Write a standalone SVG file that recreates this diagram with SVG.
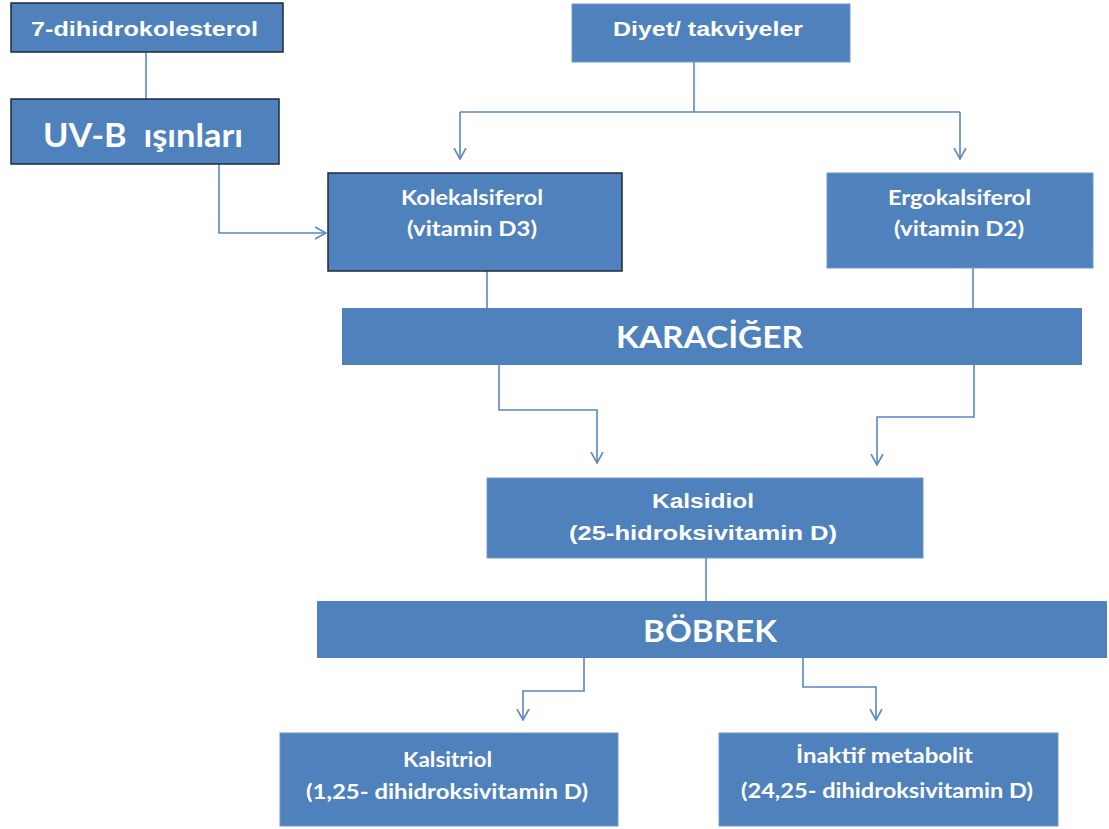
<svg xmlns="http://www.w3.org/2000/svg" width="1109" height="829" viewBox="0 0 1109 829">
  <style>
    .box { fill: #4F81BD; }
    .dark { stroke: #1e2a38; stroke-width: 1.5; }
    .lite { stroke: #6f97c9; stroke-width: 1; }
    .t { fill: #ffffff; font-weight: bold; text-anchor: middle; }
    .a { font-family: "Liberation Sans", Arial, sans-serif; }
    .c { font-family: Lato, "Open Sans", sans-serif; }
    .conn { fill: none; stroke: #5b87c0; stroke-width: 1.6; }
  </style>
  <defs>
    <marker id="arr" viewBox="0 0 12 14" refX="11" refY="7" markerWidth="12" markerHeight="14" markerUnits="userSpaceOnUse" orient="auto">
      <path d="M0,1 L11,7 L0,13" fill="none" stroke="#5b87c0" stroke-width="1.6"/>
    </marker>
  </defs>
  <rect width="1109" height="829" fill="#ffffff"/>

  <g id="connectors">
    <path class="conn" d="M146,52 V99"/>
    <path class="conn" d="M219,164 V233 H326" marker-end="url(#arr)"/>
    <path class="conn" d="M694,62 V112"/>
    <path class="conn" d="M460,112 H960"/>
    <path class="conn" d="M460,112 V159" marker-end="url(#arr)"/>
    <path class="conn" d="M960,112 V159" marker-end="url(#arr)"/>
    <path class="conn" d="M487,271 V308"/>
    <path class="conn" d="M973,268 V308"/>
    <path class="conn" d="M499,365 V410 H597 V463" marker-end="url(#arr)"/>
    <path class="conn" d="M974,365 V417 H877 V465" marker-end="url(#arr)"/>
    <path class="conn" d="M706,558 V601"/>
    <path class="conn" d="M584,658 V691 H523 V720" marker-end="url(#arr)"/>
    <path class="conn" d="M803,658 V687 H876 V720" marker-end="url(#arr)"/>
  </g>

  <g id="n-dihidrokolesterol">
    <rect class="box dark" x="11" y="3" width="272" height="49"/>
    <text class="t a" x="144.5" y="36" font-size="21" textLength="227" lengthAdjust="spacingAndGlyphs">7-dihidrokolesterol</text>
  </g>
  <g id="n-uvb">
    <rect class="box dark" x="11" y="99" width="268" height="65"/>
    <text class="t c" x="143" y="147" font-size="33" textLength="200" lengthAdjust="spacingAndGlyphs">UV-B&#160; ışınları</text>
  </g>
  <g id="n-diyet">
    <rect class="box lite" x="572" y="4" width="278" height="58"/>
    <text class="t a" x="708" y="36" font-size="20" textLength="190" lengthAdjust="spacingAndGlyphs">Diyet/ takviyeler</text>
  </g>
  <g id="n-kolekalsiferol">
    <rect class="box dark" x="328" y="173" width="294" height="98"/>
    <text class="t c" x="472" y="205" font-size="21" textLength="142" lengthAdjust="spacingAndGlyphs">Kolekalsiferol</text>
    <text class="t c" x="472" y="236" font-size="21" textLength="130" lengthAdjust="spacingAndGlyphs">(vitamin D3)</text>
  </g>
  <g id="n-ergokalsiferol">
    <rect class="box lite" x="827" y="173" width="266" height="95"/>
    <text class="t c" x="959.5" y="205" font-size="21" textLength="143" lengthAdjust="spacingAndGlyphs">Ergokalsiferol</text>
    <text class="t c" x="959" y="236" font-size="21" textLength="130" lengthAdjust="spacingAndGlyphs">(vitamin D2)</text>
  </g>
  <g id="n-karaciger">
    <rect class="box" x="342" y="308" width="740" height="57"/>
    <text class="t c" x="709.5" y="348" font-size="30" textLength="187" lengthAdjust="spacingAndGlyphs">KARACİĞER</text>
  </g>
  <g id="n-kalsidiol">
    <rect class="box lite" x="487" y="478" width="436" height="80"/>
    <text class="t a" x="703" y="508" font-size="20" textLength="102" lengthAdjust="spacingAndGlyphs">Kalsidiol</text>
    <text class="t a" x="703" y="540" font-size="20" textLength="268" lengthAdjust="spacingAndGlyphs">(25-hidroksivitamin D)</text>
  </g>
  <g id="n-bobrek">
    <rect class="box" x="317" y="601" width="790" height="57"/>
    <text class="t c" x="710" y="642" font-size="30" textLength="134" lengthAdjust="spacingAndGlyphs">BÖBREK</text>
  </g>
  <g id="n-kalsitriol">
    <rect class="box lite" x="280" y="733" width="338" height="93"/>
    <text class="t c" x="447.5" y="767" font-size="21" textLength="89" lengthAdjust="spacingAndGlyphs">Kalsitriol</text>
    <text class="t c" x="447" y="799" font-size="21" textLength="282" lengthAdjust="spacingAndGlyphs">(1,25- dihidroksivitamin D)</text>
  </g>
  <g id="n-inaktif">
    <rect class="box lite" x="719" y="733" width="339" height="93"/>
    <text class="t c" x="884.5" y="763" font-size="21" textLength="177" lengthAdjust="spacingAndGlyphs">İnaktif metabolit</text>
    <text class="t c" x="887" y="798" font-size="21" textLength="292" lengthAdjust="spacingAndGlyphs">(24,25- dihidroksivitamin D)</text>
  </g>
</svg>
